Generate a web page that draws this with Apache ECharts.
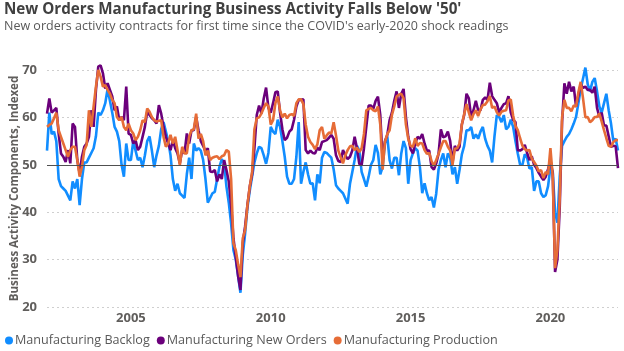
<!DOCTYPE html>
<html>
<head>
<meta charset="utf-8">
<script src="https://cdn.jsdelivr.net/npm/echarts@6/dist/echarts.min.js"></script>
<style>
html,body{margin:0;padding:0;background:#fff;}
#chart{width:624px;height:351px;}
</style>
</head>
<body>
<div id="chart"></div>
<script>
// ---- Data (monthly, Jan 2002 – Jun 2022) ----
const startYear = 2002;
const xTickYears = [2005, 2010, 2015, 2020];
const yTicks = [20, 30, 40, 50, 60, 70];
const seriesNames = ['Manufacturing Backlog', 'Manufacturing New Orders', 'Manufacturing Production'];

const backlog = [
  53, 61, 56.5, 57, 55, 47, 45.5, 45, 44.5, 43.5, 42.5, 46.5,
  45, 47, 41.5, 47, 50.5, 50.5, 51.5, 52.5, 53.5, 56, 61, 60.5,
  61.5, 63, 66, 63.5, 61, 58, 57, 55, 50, 47.5, 54.5, 51,
  51, 55, 53, 51, 51.5, 49.5, 52, 55, 56, 53, 49.5, 52,
  54, 57.5, 59, 57, 55, 52, 47, 44.5, 46, 44, 43.5, 43,
  48, 51.5, 47, 54.5, 53, 53.5, 53, 51, 47, 42, 43, 44,
  44.3, 47, 49.6, 51.2, 50.3, 45.4, 42, 37.6, 32, 30, 26.5, 23,
  31, 35.5, 41, 44.5, 47.5, 50.5, 52.4, 53.8, 53.5, 52, 50.2, 52.5,
  58, 57, 56.5, 59.5, 58, 55, 51.7, 47.5, 46, 46, 47, 51.7,
  59, 46, 48.5, 50.5, 48, 46, 46.1, 42.5, 48, 46.1, 51.5, 52.7,
  52.5, 52, 51.5, 49, 45.7, 45, 44.5, 44, 42.9, 41.8, 46, 48.5,
  51, 54, 53, 48.5, 47, 45.4, 47.5, 50, 51, 54.2, 52.5, 48,
  49.5, 54.5, 56, 51, 49.2, 51.5, 51.5, 47.8, 52.4, 55, 53.5, 46,
  51, 52.4, 53.5, 53, 49.5, 44, 46.1, 44, 42.5, 43.2, 41, 43.9,
  49, 51, 52.4, 49.5, 52.4, 51.5, 48, 49.5, 46, 48.9, 52.2, 54,
  57.3, 57.3, 58, 55.5, 56.4, 55.5, 57, 58, 55.5, 54, 53, 50.5,
  56, 60.5, 60.1, 59, 60.5, 57.5, 58, 59.5, 58, 55, 52.4, 50,
  50, 52.2, 51.5, 49.2, 49.5, 44.5, 46.5, 46.5, 44, 43.2, 43.6, 45.5,
  49.5, 48.5, 40, 37.8, 47.5, 54, 55, 55.9, 56.5, 57.5, 58.7, 60.1,
  63, 66, 68.2, 70.5, 67, 65.5, 67.5, 68.3, 65.5, 62.3, 61, 63,
  65, 61.5, 58.7, 55, 55.5, 53
];

const newOrders = [
  60.8, 64, 61, 61.5, 62, 56.6, 52.4, 51.7, 50.6, 53.1, 50.3, 58.7,
  58, 51, 48.2, 51.7, 53.8, 54.5, 55.9, 61.5, 58, 65.8, 70.7, 71,
  69.3, 66.1, 67.2, 65.8, 64.4, 61.5, 62.3, 59.4, 60.1, 59.4, 66.5, 56.6,
  56.3, 54.5, 55.2, 53.1, 53.8, 55.9, 58, 61.2, 60.5, 59.8, 59.4, 58.7,
  62.6, 60.8, 58, 55.9, 54.5, 53.1, 55.2, 53.5, 52.4, 50.3, 53.1, 52.4,
  56.6, 54.5, 57.3, 57.3, 60.1, 57.3, 55, 54, 52.8, 53.5, 48.6, 48.5,
  48.9, 46.5, 48, 47, 51, 48.9, 46.5, 41.5, 34.5, 30.5, 26.5, 23.6,
  33.5, 37, 41.5, 45.4, 48, 53.5, 60.5, 62.5, 60.8, 64, 66.3, 62,
  61, 63, 65.3, 65.5, 61, 57.5, 55.2, 55.7, 57, 57.5, 59.5, 62.3,
  63.7, 63.7, 63.8, 53.1, 52.4, 53, 52.5, 52.4, 53.6, 53.1, 54.8, 55,
  55.2, 55.7, 56.3, 55.5, 52, 50.8, 50.6, 53.1, 52, 51.2, 51.7, 53,
  55.9, 53.5, 50.2, 49.9, 53.5, 58, 62.5, 62.5, 61.8, 63.5, 64.4, 60.5,
  51, 55, 56.3, 59.4, 61, 63.5, 65.5, 62, 65, 66, 60, 55.9,
  53.3, 52.4, 54.5, 55.9, 55.5, 56.5, 54.5, 53, 53, 49.5, 49, 50.3,
  52.3, 57.5, 55.8, 56, 57, 55, 50.5, 54, 53, 53.8, 58.5, 60.5,
  65, 64, 60.1, 61.5, 63.5, 61.5, 61.5, 63.7, 64.2, 63.7, 67.3, 64.5,
  63.7, 63, 61, 62, 62.8, 63, 64.5, 61, 59.5, 59, 53.1, 53,
  53.3, 54.2, 52.5, 51, 51.8, 50, 49.3, 48.3, 47.5, 46.8, 47.5, 49.1,
  51, 48.2, 27.4, 30, 41, 59, 67.2, 65, 67.5, 65.5, 66.5, 62.3,
  64.6, 67, 66.2, 66.5, 65.8, 65.8, 65.2, 66.5, 62, 60.1, 61, 58.3,
  58.3, 56, 53.8, 54, 53.9, 49.3
];

const production = [
  58, 58.4, 58.7, 59.8, 61, 57.3, 55.9, 54.5, 53.1, 51.7, 53.1, 53.8,
  53.8, 51, 47.5, 49.6, 53.1, 54.2, 61.5, 58, 62.3, 66.5, 70, 68.6,
  66.5, 66.8, 65.8, 65, 63.7, 63, 60.1, 59.4, 60.1, 58, 57.3, 58.7,
  57.3, 56.6, 55.2, 55.9, 57.3, 59.4, 59, 61.9, 61.2, 60.1, 59.4, 59.1,
  59.3, 59.4, 55.9, 53.8, 54.5, 56.3, 54.5, 55.9, 53.1, 49.9, 53.8, 52.4,
  52.4, 55.9, 57.3, 57.5, 60.8, 55.5, 56.5, 55, 52, 53, 51, 51.5,
  51.7, 51.8, 51.2, 51.8, 52, 53.1, 52.8, 47, 33.4, 32, 29, 26.3,
  34.5, 36.2, 41.5, 45.4, 48.5, 57.5, 59.8, 60, 60.8, 62, 63, 62.3,
  58.5, 59.4, 63, 64.4, 61.5, 60, 60.8, 59.8, 60.5, 60.7, 60.3, 63,
  63.8, 63.8, 62.8, 58.5, 55.9, 54.8, 54.2, 53.3, 54.3, 57.3, 58, 55.5,
  56.2, 56.8, 56.6, 59, 56.2, 53, 51.6, 50.3, 52, 53.1, 53.9, 54,
  53.1, 53.6, 52.7, 53.5, 56.5, 61.5, 61.8, 62, 61.5, 61.3, 62.3, 58.5,
  49, 54.8, 56.5, 57.3, 60.5, 62.3, 64.4, 64.8, 65, 64, 58.5, 55.5,
  54, 53.8, 55.6, 54, 54.6, 54.5, 53.1, 52.3, 52.5, 50.8, 49.8, 51,
  52.3, 53.7, 55, 55, 53.8, 53, 50, 53.4, 53.5, 54.5, 58.5, 60.7,
  62.8, 61, 59.4, 60.7, 61.5, 60.3, 61.7, 62.6, 62.7, 63.4, 64.5, 62,
  62.3, 61.1, 60.4, 61.2, 61.4, 61.5, 63.6, 63.8, 60.4, 58.2, 57.3, 55.6,
  54, 53.3, 53, 53.1, 51.3, 50.6, 49.8, 48.6, 48.9, 47.2, 48.5, 48,
  53.5, 47.5, 28.2, 32, 43, 60, 63.7, 62, 62, 61.3, 62.5, 62.3,
  65.3, 67.5, 64, 60, 60.1, 59, 59.4, 60.1, 60.1, 60.8, 59.1, 57.3,
  55.6, 54, 53.8, 54.8, 55.2, 55.2
];

const months = backlog.map(function (_, i) {
  const y = startYear + Math.floor(i / 12);
  const m = (i % 12) + 1;
  return y + '-' + (m < 10 ? '0' + m : m);
});

const FONT = '"Open Sans", "Noto Sans", sans-serif';
const colors = ['#118DFF', '#6B007B', '#E66C37'];

const chart = echarts.init(document.getElementById('chart'), null, {renderer: 'canvas'});

function lineSeries(name, data, color, extra) {
  return Object.assign({
    name: name,
    type: 'line',
    data: data,
    showSymbol: false,
    symbol: 'none',
    clip: false,
    smooth: false,
    lineStyle: {width: 2.6, color: color},
    itemStyle: {color: color},
    emphasis: {disabled: true},
    animation: false
  }, extra || {});
}

chart.setOption({
  animation: false,
  color: colors,
  textStyle: {fontFamily: FONT},
  title: [
    {
      text: "New Orders Manufacturing Business Activity Falls Below '50'",
      left: 4, top: 0, padding: 0,
      textStyle: {fontFamily: FONT, fontSize: 15.2, fontWeight: 'bold', color: '#404040', lineHeight: 19}
    },
    {
      text: "New orders activity contracts for first time since the COVID's early-2020 shock readings",
      left: 4, top: 19, padding: 0,
      textStyle: {fontFamily: FONT, fontSize: 12.5, fontWeight: 'normal', color: '#595959', lineHeight: 15}
    }
  ],
  legend: {
    data: seriesNames,
    left: 5,
    top: 334,
    padding: 0,
    icon: 'circle',
    itemWidth: 8,
    itemHeight: 8,
    itemGap: 7,
    textStyle: {fontFamily: FONT, fontSize: 12.6, color: '#595959', padding: [0, 0, 0, -3]}
  },
  grid: {left: 47, right: 6, top: 70, bottom: 44, containLabel: false, outerBoundsMode: 'none'},
  xAxis: {
    type: 'category',
    data: months,
    boundaryGap: false,
    axisLine: {show: false},
    axisTick: {show: false},
    splitLine: {show: false},
    axisLabel: {
      interval: function (i, v) {
        return v.slice(5) === '01' && xTickYears.indexOf(+v.slice(0, 4)) >= 0;
      },
      formatter: function (v) { return v.slice(0, 4); },
      margin: 5,
      fontFamily: FONT,
      fontSize: 13,
      fontWeight: 'bold',
      color: '#605E5C'
    }
  },
  yAxis: {
    type: 'value',
    min: yTicks[0],
    max: yTicks[yTicks.length - 1],
    interval: 10,
    name: 'Business Activity Components, Indexed',
    nameLocation: 'middle',
    nameGap: 26,
    nameMoveOverlap: false,
    nameRotate: 90,
    nameTextStyle: {fontFamily: FONT, fontSize: 11.5, fontWeight: 'bold', color: '#605E5C'},
    axisLine: {show: false},
    axisTick: {show: false},
    axisLabel: {margin: 10, fontFamily: FONT, fontSize: 13, fontWeight: 'bold', color: '#605E5C'},
    splitLine: {show: true, lineStyle: {color: '#cfcfcf', width: 1, type: [2, 3]}}
  },
  series: [
    lineSeries(seriesNames[0], backlog, colors[0]),
    lineSeries(seriesNames[1], newOrders, colors[1]),
    lineSeries(seriesNames[2], production, colors[2], {
      markLine: {
        silent: true,
        symbol: 'none',
        label: {show: false},
        lineStyle: {color: '#505050', type: 'solid', width: 1},
        data: [{yAxis: 50}],
        animation: false
      }
    })
  ]
});
</script>
</body>
</html>
